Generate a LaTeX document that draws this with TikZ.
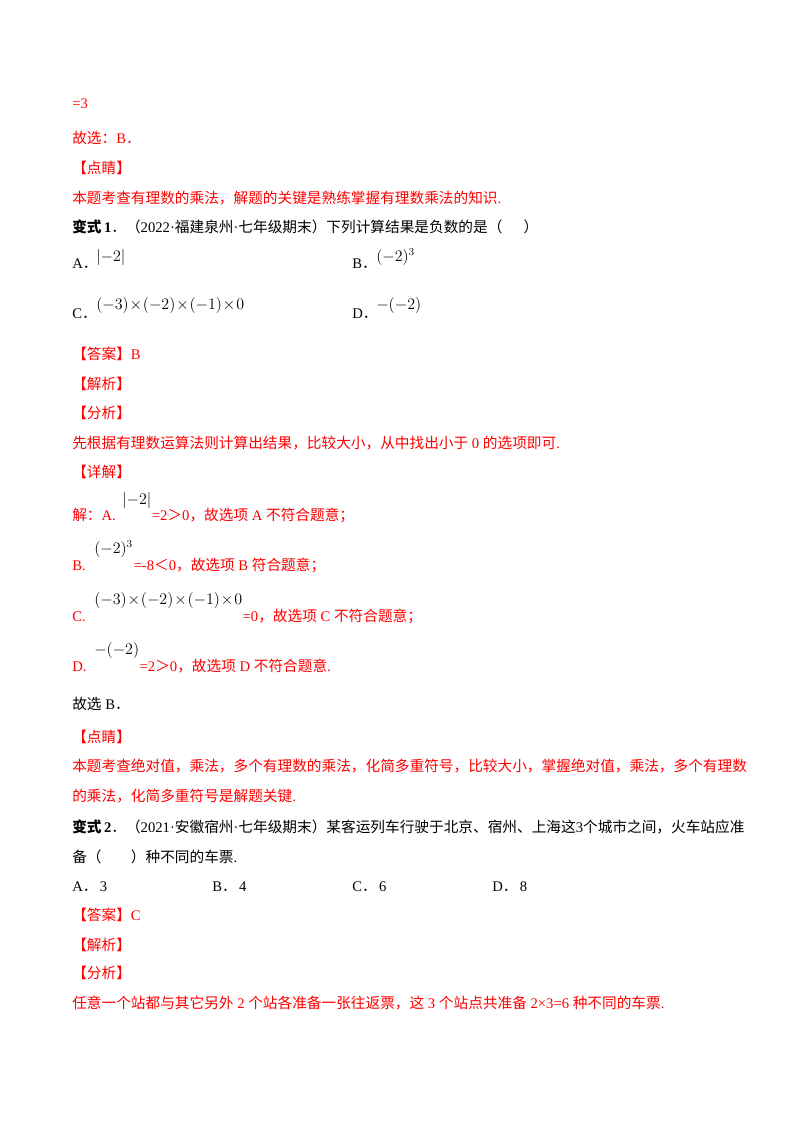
\documentclass[tikz,border=0pt]{standalone}
\usepackage{fontspec}
\setmainfont{Liberation Serif}
\newfontfamily\cjk{Noto Sans CJK SC}
\newcommand{\C}[1]{{\cjk #1}}
\definecolor{rd}{RGB}{255,0,0}
\begin{document}
\begin{tikzpicture}[x=0.75pt,y=-0.75pt,
  t/.style={anchor=base west,inner sep=0pt,font=\fontsize{11}{13}\selectfont},
  r/.style={t,text=rd},
  m/.style={t,font=\fontsize{12}{13}\selectfont}]
\useasboundingbox[fill=white] (0,0) rectangle (800,1132);
\node[r] (l1) at (72,108) {=3};
\node[r] (l2) at (72,143) {\C{故选：}B\C{．}};
\node[r] (l3) at (72,173) {\C{【点睛】}};
\node[r] (l4) at (72,203) {\C{本题考查有理数的乘法，解题的关键是熟练掌握有理数乘法的知识}.};
\node[t] (l5) at (72,232) {\textbf{\C{变式}\,1}\C{．（}2022·\C{福建泉州}·\C{七年级期末）下列计算结果是负数的是（\quad\ \ ）}};
\node[t] (a1) at (72,268) {A\C{．}};
\node[m] (a2) at (96,261) {$|{-2}|$};
\node[t] (b1) at (352,268) {B\C{．}};
\node[m] (b2) at (376,261) {$(-2)^3$};
\node[t] (c1) at (72,318) {C\C{．}};
\node[m] (c2) at (96,309) {$(-3)\!\times\!(-2)\!\times\!(-1)\!\times\!0$};
\node[t] (d1) at (352,318) {D\C{．}};
\node[m] (d2) at (376,309) {$-(-2)$};
\node[r] (l6) at (72,359) {\C{【答案】}B};
\node[r] (l7) at (72,389) {\C{【解析】}};
\node[r] (l8) at (72,418) {\C{【分析】}};
\node[r] (l9) at (72,448) {\C{先根据有理数运算法则计算出结果，比较大小，从中找出小于} 0 \C{的选项即可}.};
\node[r] (l10) at (72,477) {\C{【详解】}};
\node[r] (s1) at (72,520) {\C{解：}A.};
\node[m] (s1m) at (122,504) {$|{-2}|$};
\node[r] (s1t) at (s1m.east |- s1.base) {=2\C{＞}0\C{，故选项} A \C{不符合题意；}};
\node[r] (s2) at (72,570) {B.};
\node[m] (s2m) at (94,553) {$(-2)^3$};
\node[r] (s2t) at (s2m.east |- s2.base) {=-8\C{＜}0\C{，故选项} B \C{符合题意；}};
\node[r] (s3) at (72,621) {C.};
\node[m] (s3m) at (94,604) {$(-3)\!\times\!(-2)\!\times\!(-1)\!\times\!0$};
\node[r] (s3t) at (s3m.east |- s3.base) {=0\C{，故选项} C \C{不符合题意；}};
\node[r] (s4) at (72,671) {D.};
\node[m] (s4m) at (94,654) {$-(-2)$};
\node[r] (s4t) at (s4m.east |- s4.base) {=2\C{＞}0\C{，故选项} D \C{不符合题意}.};
\node[t] (l11) at (72,709) {\C{故选} B\C{．}};
\node[r] (l12) at (72,742) {\C{【点睛】}};
\node[r] (l13) at (72,771) {\C{本题考查绝对值，乘法，多个有理数的乘法，化简多重符号，比较大小，掌握绝对值，乘法，多个有理数}};
\node[r] (l14) at (72,801) {\C{的乘法，化简多重符号是解题关键}.};
\node[t] (l15) at (72,832) {\textbf{\C{变式}\,2}\C{．（}2021·\C{安徽宿州}·\C{七年级期末）某客运列车行驶于北京、宿州、上海这}3\C{个城市之间，火车站应准}};
\node[t] (l16) at (72,862) {\C{备（\qquad ）种不同的车票}.};
\node[t] (o1) at (72,891) {A\C{．}\,3};
\node[t] (o2) at (212,891) {B\C{．}\,4};
\node[t] (o3) at (352,891) {C\C{．}\,6};
\node[t] (o4) at (492,891) {D\C{．}\,8};
\node[r] (l17) at (72,920) {\C{【答案】}C};
\node[r] (l18) at (72,950) {\C{【解析】}};
\node[r] (l19) at (72,978) {\C{【分析】}};
\node[r] (l20) at (72,1008) {\C{任意一个站都与其它另外} 2 \C{个站各准备一张往返票，这} 3 \C{个站点共准备} 2×3=6 \C{种不同的车票}.};
\end{tikzpicture}
\end{document}
